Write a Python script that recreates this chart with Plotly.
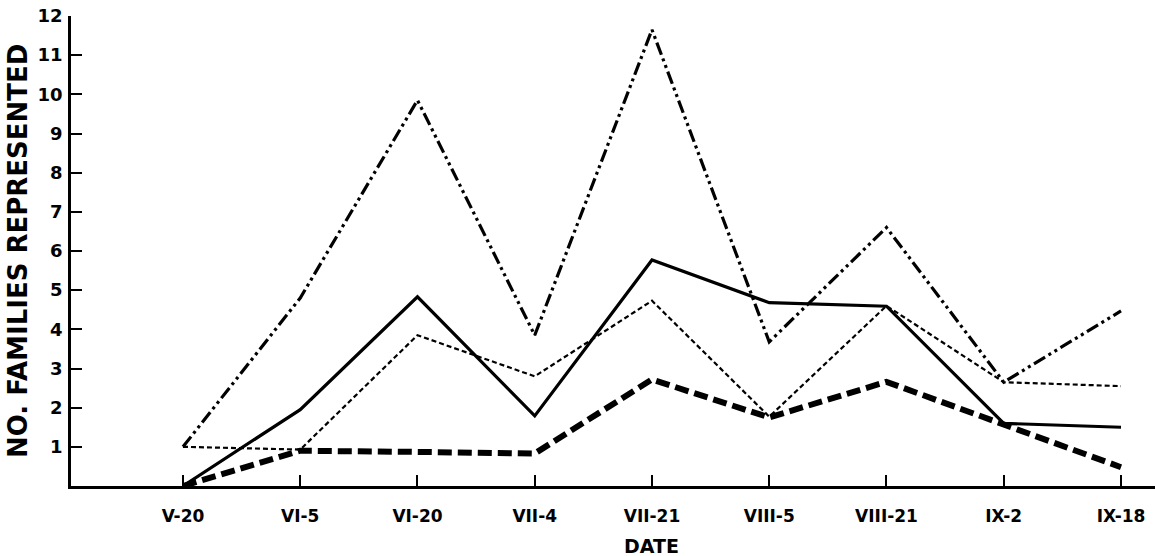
import plotly.graph_objects as go

dates = ["V-20", "VI-5", "VI-20", "VII-4", "VII-21", "VIII-5", "VIII-21", "IX-2", "IX-18"]
series_dashdot = [1.0, 4.8, 9.85, 3.85, 11.65, 3.68, 6.6, 2.65, 4.47]
series_solid = [0.0, 1.95, 4.83, 1.79, 5.77, 4.68, 4.59, 1.6, 1.5]
series_thin_dash = [1.0, 0.93, 3.85, 2.8, 4.73, 1.77, 4.6, 2.65, 2.55]
series_thick_dash = [0.0, 0.9, 0.87, 0.83, 2.72, 1.75, 2.66, 1.58, 0.48]
y_ticks = list(range(1, 13))

xpos = list(range(len(dates)))

fig = go.Figure()
fig.add_trace(go.Scatter(x=xpos, y=series_dashdot, mode="lines",
                         line=dict(color="black", width=3.2, dash="13px,4px,3px,4px,3px,4px"),
                         showlegend=False))
fig.add_trace(go.Scatter(x=xpos, y=series_solid, mode="lines",
                         line=dict(color="black", width=3.2),
                         showlegend=False))
fig.add_trace(go.Scatter(x=xpos, y=series_thin_dash, mode="lines",
                         line=dict(color="black", width=2.2, dash="5px,3px"),
                         showlegend=False))
fig.add_trace(go.Scatter(x=xpos, y=series_thick_dash, mode="lines",
                         line=dict(color="black", width=6, dash="14px,6px"),
                         showlegend=False))

fig.update_layout(
    width=1155, height=556,
    margin=dict(l=71, r=0, t=16, b=70),
    paper_bgcolor="white", plot_bgcolor="white",
    xaxis=dict(
        range=[-0.955, 8.29],
        tickvals=xpos, ticktext=dates,
        ticks="inside", ticklen=11, tickwidth=2, tickcolor="black",
        showline=True, linecolor="black", linewidth=2.5,
        showgrid=False, zeroline=False,
        tickfont=dict(family="DejaVu Sans", size=17, color="black", weight="bold"),
        ticklabelstandoff=13,
    ),
    yaxis=dict(
        range=[0, 12],
        tickvals=y_ticks,
        ticks="inside", ticklen=11, tickwidth=2, tickcolor="black",
        showline=True, linecolor="black", linewidth=2.5,
        showgrid=False, zeroline=False,
        tickfont=dict(family="DejaVu Sans", size=18, color="black", weight="bold"),
        ticklabelstandoff=2,
    ),
    annotations=[
        dict(text="DATE", x=4, xref="x", y=-0.128, yref="paper",
             showarrow=False, xanchor="center", yanchor="middle",
             font=dict(family="DejaVu Sans", size=19, color="black", weight="bold")),
        dict(text="NO. FAMILIES REPRESENTED", x=0, xref="paper", xshift=-53,
             y=0.5, yref="paper", textangle=-90, showarrow=False,
             xanchor="center", yanchor="middle",
             font=dict(family="DejaVu Sans", size=26, color="black", weight="bold")),
    ],
)

fig.write_html("out.html")
